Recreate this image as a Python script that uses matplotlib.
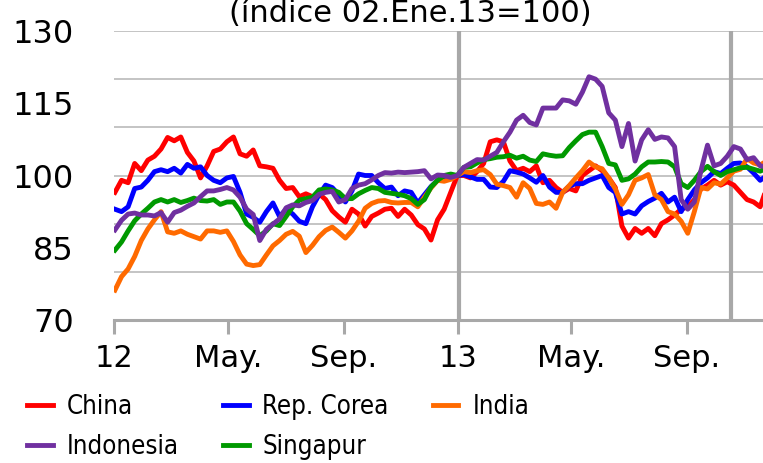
import matplotlib
matplotlib.use("Agg")
import matplotlib.pyplot as plt
import numpy as np
import pandas as pd
from matplotlib import font_manager

# weekly readings, index 02.Ene.13 = 100
china = [96.5, 99, 98.5, 102.5, 101, 103.2, 104, 105.5, 107.9, 107.2,
         108, 104.8, 103, 99.5, 102, 105, 105.5, 107, 108, 104.5,
         104, 105.3, 102, 101.8, 101.5, 99, 97.3, 97.5, 95.6, 96.2,
         95.6, 96.2, 95, 92.7, 91.4, 90.3, 93, 92, 89.5, 91.5,
         92.2, 93, 93.2, 91.5, 93, 91.8, 89.8, 88.9, 86.6, 90.8,
         93, 96.5, 100, 100, 99.5, 100.8, 102.5, 107, 107.4, 107,
         103, 101, 101.5, 100.8, 102, 98.5, 99, 97.5, 96.5, 97.3,
         96.8, 100, 101, 102, 101, 99.5, 97.5, 89.5, 87, 89,
         88, 89, 87.5, 90, 90.8, 91.8, 93, 93.5, 95, 97.2,
         98, 99, 98, 98.7, 98, 96.5, 95, 94.5, 93.5, 97.5]
corea = [93, 92.5, 93.5, 97.3, 97.6, 99, 100.8, 101.2, 100.8, 101.5,
         100.5, 102.3, 101.5, 101.8, 100, 99, 98.5, 99.5, 99.8, 96.5,
         92, 91.3, 90.3, 92.5, 94.3, 91.5, 93, 92, 90.5, 90,
         93.5, 96, 98, 97.5, 96, 94.5, 96.8, 100.3, 100, 100,
         98.5, 97.3, 97.6, 95.8, 96.8, 96.5, 94.3, 96, 97.7, 99,
         99.8, 99.5, 100, 100.2, 99.7, 99.2, 99.2, 97.6, 97.5, 98.8,
         101, 100.7, 100.3, 99.5, 98.6, 100, 97.6, 96.5, 96.5, 97.8,
         98.3, 98.3, 99, 99.5, 100, 97.5, 96.5, 92, 92.5, 92,
         93.7, 94.6, 95.3, 96.3, 94.5, 95.5, 92.5, 95, 97, 98.5,
         99.5, 100.8, 100.4, 101.5, 102.5, 102.6, 101.8, 100.5, 99, 100]
india = [76.2, 79, 80.6, 83.2, 86.5, 88.9, 90.8, 92.5, 88.3, 88,
         88.5, 87.8, 87.3, 86.8, 88.5, 88.5, 88.2, 88.5, 86.3, 83.5,
         81.6, 81.3, 81.5, 83.5, 85.4, 86.5, 87.8, 88.4, 87.4, 84,
         85.5, 87.3, 88.6, 89.3, 88.2, 87, 88.5, 90.5, 93.2, 94.2,
         94.7, 94.8, 94.4, 94.3, 94.4, 94.4, 93.5, 95.5, 97.4, 99,
         98.8, 99.2, 100, 100.8, 100.6, 101, 101.2, 100.2, 98.2, 97.9,
         97.5, 95.5, 98.5, 97.3, 94.2, 94, 94.5, 93.2, 96.5, 97.9,
         99.5, 101, 102.8, 101.8, 101.4, 99.5, 97.2, 94, 96, 99,
         99.5, 100.2, 96, 95, 92.5, 92, 90.5, 88, 92.5, 97.5,
         97.2, 98.5, 98.2, 99.5, 100.9, 101.3, 103.5, 102.6, 102.2, 103]
indonesia = [88.7, 90.7, 92, 92.2, 91.8, 91.8, 91.6, 92.3, 90.3, 92.3,
             92.8, 93.6, 94.3, 95.6, 96.8, 96.8, 97.1, 97.5, 97, 95.5,
             93, 91.9, 86.5, 88.8, 89.9, 91, 93.3, 93.9, 93.7, 94.4,
             94.8, 96.1, 96.5, 96.7, 94.5, 95, 97.3, 98, 98.3, 99.1,
             100, 100.6, 100.5, 100.7, 100.6, 100.7, 100.8, 101, 99.3, 100.1,
             100, 99.6, 100, 101.7, 102.5, 103.3, 103.2, 104, 104.8, 107,
             109, 111.5, 112.5, 111, 110.5, 114, 114, 114, 115.7, 115.5,
             114.8, 117.3, 120.5, 120, 118.5, 113, 111.5, 106, 110.8, 103,
             107.4, 109.5, 107.5, 108, 107.8, 106, 95, 93, 94.5, 101,
             106.3, 102, 102.5, 104, 106, 105.5, 103.3, 103.7, 102, 101.8]
singapur = [84.5, 86.2, 88.5, 90.6, 92, 93.2, 94.5, 95, 94.5, 95,
            94.4, 94.8, 95.3, 94.8, 94.7, 95, 94, 94.5, 94.5, 92.6,
            90, 88.8, 87.5, 88.5, 90, 89.6, 91.5, 93.5, 94.9, 95.2,
            95.5, 97, 97.2, 97, 96.5, 95.2, 95.2, 96.2, 96.9, 97.5,
            97.3, 96.5, 96.3, 96.1, 95.8, 95.2, 94, 95, 97.6, 99,
            100, 100.3, 100, 101.7, 101.8, 102.6, 103.3, 103.5, 103.8, 103.9,
            104.2, 103.6, 104, 103.2, 102.9, 104.5, 104.2, 104, 104.1, 105.8,
            107.2, 108.5, 109, 109, 106, 102.5, 102.2, 99, 99.3, 100.3,
            101.8, 102.8, 102.8, 102.9, 102.8, 101.8, 98.3, 97.5, 99, 100.8,
            101.9, 100.8, 100, 100.8, 101.2, 101.6, 101.7, 101.3, 100.9, 101.5]

dates = pd.date_range("2012-01-02", periods=len(china), freq="7D")
tick_dates = ["2012-01-01", "2012-05-01", "2012-09-01",
              "2013-01-01", "2013-05-01", "2013-09-01"]
tick_labels = ["12", "May.", "Sep.", "13", "May.", "Sep."]
y_ticks = [70, 85, 100, 115, 130]
marker_dates = ["2013-01-02", "2013-10-18"]

series = [
    ("China", china, "#ff0000"),
    ("Rep. Corea", corea, "#0000ff"),
    ("India", india, "#ff6a00"),
    ("Singapur", singapur, "#009900"),
    ("Indonesia", indonesia, "#7030a0"),
]


def narrow_font(size):
    # look for a condensed / narrow face among what is installed
    cands = []
    for f in font_manager.fontManager.ttflist:
        fn = f.fname.lower()
        if ("condensed" in fn or "narrow" in fn) and "bold" not in fn \
                and "italic" not in fn and "oblique" not in fn \
                and "light" not in fn and "semi" not in fn and "extra" not in fn \
                and "medium" not in fn and "black" not in fn and "thin" not in fn:
            cands.append(f.fname)
    pref = ["liberationsansnarrow", "dejavusanscondensed", "notosans", "opensans", "roboto"]
    for p in pref:
        for c in cands:
            if p in c.lower().replace("-", "").replace("_", ""):
                return font_manager.FontProperties(fname=c, size=size), True
    if cands:
        return font_manager.FontProperties(fname=cands[0], size=size), True
    return font_manager.FontProperties(family="DejaVu Sans", size=16), False


legend_font, is_narrow = narrow_font(18.5)

fig = plt.figure(figsize=(7.63, 4.63), dpi=100)
ax = fig.add_axes([114 / 763, 1 - 320 / 463, 649 / 763, 289 / 463])

handles = {}
for name, vals, color in series:
    (ln,) = ax.plot(dates, vals, color=color, lw=3.5, label=name,
                    solid_joinstyle="round", zorder=3)
    handles[name] = ln

for y in np.arange(80, 131, 10):
    ax.axhline(y, color="#b4b4b4", lw=1.1, zorder=0)
for d in marker_dates:
    ax.axvline(pd.Timestamp(d), color="#a8a8a8", lw=3, zorder=1)

ax.set_ylim(70, 130)
ax.set_xlim(pd.Timestamp("2012-01-01"), pd.Timestamp("2013-11-21"))
ax.set_yticks(y_ticks)
ax.set_yticklabels([str(v) for v in y_ticks])
ax.set_xticks([pd.Timestamp(d) for d in tick_dates])
ax.set_xticklabels(tick_labels)

for s in ["top", "right", "left"]:
    ax.spines[s].set_visible(False)
ax.spines["bottom"].set_color("#a8a8a8")
ax.spines["bottom"].set_linewidth(2.2)
ax.tick_params(axis="y", length=0, pad=29, labelsize=23)
ax.tick_params(axis="x", length=10, width=2.2, color="#a8a8a8", pad=7, labelsize=22)

fig.text(410 / 763, 1 - 22 / 463, "(índice 02.Ene.13=100)", ha="center",
         va="baseline", fontsize=22)

order = ["China", "Indonesia", "Rep. Corea", "Singapur", "India"]
fig.legend([handles[n] for n in order], order, ncol=3, loc="upper left",
           bbox_to_anchor=(27 / 763, 1 - 394 / 463), frameon=False,
           prop=legend_font,
           handlelength=1.01, handletextpad=0.54, columnspacing=1.7,
           labelspacing=0.53, borderaxespad=0, borderpad=0)

fig.savefig("out.png", dpi=100)
